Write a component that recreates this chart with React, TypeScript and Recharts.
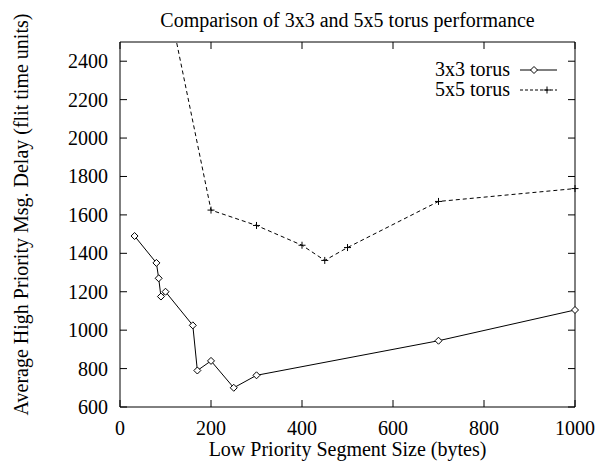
import { LineChart, Line, XAxis, YAxis, Legend } from 'recharts'

const FONT = '"Liberation Serif", "Times New Roman", serif'

const xTicks = [0, 200, 400, 600, 800, 1000]
const yTicks = [600, 800, 1000, 1200, 1400, 1600, 1800, 2000, 2200, 2400]

// 3x3 torus
const size3 = [32, 80, 85, 90, 100, 160, 170, 200, 250, 300, 700, 1000]
const delay3 = [1490, 1350, 1270, 1175, 1200, 1025, 790, 840, 700, 765, 945, 1105]

// 5x5 torus (first point is off the top of the plot)
const size5 = [100, 200, 300, 400, 450, 500, 700, 1000]
const delay5 = [2780, 1625, 1545, 1442, 1363, 1430, 1670, 1737]

const torus3 = size3.map((x, i) => ({ x, y: delay3[i] }))
const torus5 = size5.map((x, i) => ({ x, y: delay5[i] }))

const Diamond = ({ cx, cy }: any) => {
  if (cx == null || cy == null) return null
  const r = 3.5
  return (
    <path
      d={`M${cx},${cy - r}L${cx + r},${cy}L${cx},${cy + r}L${cx - r},${cy}Z`}
      fill="#fff"
      stroke="#000"
      strokeWidth={1}
    />
  )
}

const Plus = ({ cx, cy }: any) => {
  if (cx == null || cy == null) return null
  const r = 3.5
  return (
    <path d={`M${cx - r},${cy}H${cx + r}M${cx},${cy - r}V${cy + r}`} stroke="#000" strokeWidth={1} fill="none" />
  )
}

const BottomTick = ({ x, y, payload }: any) => (
  <g>
    <line x1={x} y1={y} x2={x} y2={y - 7} stroke="#000" />
    <text x={x} y={y + 28} textAnchor="middle" fontSize={20} fontFamily={FONT} fill="#000">
      {payload.value}
    </text>
  </g>
)

const TopTick = ({ x, y }: any) => <line x1={x} y1={y} x2={x} y2={y + 7} stroke="#000" />

const LeftTick = ({ x, y, payload }: any) => (
  <g>
    <line x1={x} y1={y} x2={x + 7} y2={y} stroke="#000" />
    <text x={x - 12} y={y + 7} textAnchor="end" fontSize={20} fontFamily={FONT} fill="#000">
      {payload.value}
    </text>
  </g>
)

const RightTick = ({ x, y }: any) => <line x1={x} y1={y} x2={x - 7} y2={y} stroke="#000" />

const LegendBox = () => (
  <svg width={170} height={46}>
    <text x={110} y={18} textAnchor="end" fontSize={20} fontFamily={FONT} fill="#000">
      3x3 torus
    </text>
    <line x1={120} y1={12} x2={157} y2={12} stroke="#000" />
    <Diamond cx={134} cy={12} />
    <text x={110} y={38} textAnchor="end" fontSize={20} fontFamily={FONT} fill="#000">
      5x5 torus
    </text>
    <line x1={120} y1={32} x2={157} y2={32} stroke="#000" strokeDasharray="3 2" />
    <Plus cx={147} cy={32} />
  </svg>
)

export default function App() {
  return (
    <div style={{ position: 'absolute', left: 0, top: 0, background: '#fff' }}>
      <LineChart width={597} height={461} margin={{ top: 41, right: 21, left: 0, bottom: 0 }}>
        <XAxis
          dataKey="x"
          type="number"
          domain={[0, 1000]}
          ticks={xTicks}
          height={54}
          tickSize={0}
          tickMargin={0}
          tickLine={false}
          axisLine={{ stroke: '#000' }}
          tick={<BottomTick />}
          label={{
            content: ({ viewBox }: any) => (
              <text
                x={viewBox.x + viewBox.width / 2}
                y={viewBox.y + 49}
                textAnchor="middle"
                fontSize={20}
                fontFamily={FONT}
                fill="#000"
              >
                Low Priority Segment Size (bytes)
              </text>
            ),
          }}
        />
        <XAxis
          xAxisId="top"
          orientation="top"
          dataKey="x"
          type="number"
          domain={[0, 1000]}
          ticks={xTicks}
          height={1}
          tickSize={0}
          tickMargin={0}
          tickLine={false}
          axisLine={{ stroke: '#000' }}
          tick={<TopTick />}
          label={{
            content: ({ viewBox }: any) => (
              <text
                x={viewBox.x + viewBox.width / 2}
                y={27}
                textAnchor="middle"
                fontSize={20}
                fontFamily={FONT}
                fill="#000"
              >
                Comparison of 3x3 and 5x5 torus performance
              </text>
            ),
          }}
        />
        <YAxis
          type="number"
          domain={[600, 2500]}
          ticks={yTicks}
          allowDataOverflow
          width={120}
          tickSize={0}
          tickMargin={0}
          tickLine={false}
          axisLine={{ stroke: '#000' }}
          tick={<LeftTick />}
          label={{
            content: ({ viewBox }: any) => (
              <text
                x={0}
                y={0}
                transform={`translate(${viewBox.x + 28}, ${viewBox.y + viewBox.height / 2 - 10}) rotate(-90)`}
                textAnchor="middle"
                fontSize={20}
                fontFamily={FONT}
                fill="#000"
              >
                Average High Priority Msg. Delay (flit time units)
              </text>
            ),
          }}
        />
        <YAxis
          yAxisId="right"
          orientation="right"
          type="number"
          domain={[600, 2500]}
          ticks={yTicks}
          allowDataOverflow
          width={1}
          tickSize={0}
          tickMargin={0}
          tickLine={false}
          axisLine={{ stroke: '#000' }}
          tick={<RightTick />}
        />
        <Legend
          layout="vertical"
          verticalAlign="middle"
          align="center"
          wrapperStyle={{ top: 58, left: 400, width: 170 }}
          content={() => <LegendBox />}
        />
        <Line
          data={torus3}
          dataKey="y"
          name="3x3 torus"
          stroke="#000"
          strokeWidth={1}
          dot={<Diamond />}
          activeDot={false}
          isAnimationActive={false}
        />
        <Line
          data={torus5}
          dataKey="y"
          name="5x5 torus"
          stroke="#000"
          strokeWidth={1}
          strokeDasharray="4 3"
          dot={<Plus />}
          activeDot={false}
          isAnimationActive={false}
        />
        {/* invisible series so the mirror axes (top, right) are drawn */}
        <Line
          data={torus3}
          dataKey="y"
          xAxisId="top"
          yAxisId="right"
          stroke="none"
          dot={false}
          activeDot={false}
          legendType="none"
          isAnimationActive={false}
        />
      </LineChart>
    </div>
  )
}
